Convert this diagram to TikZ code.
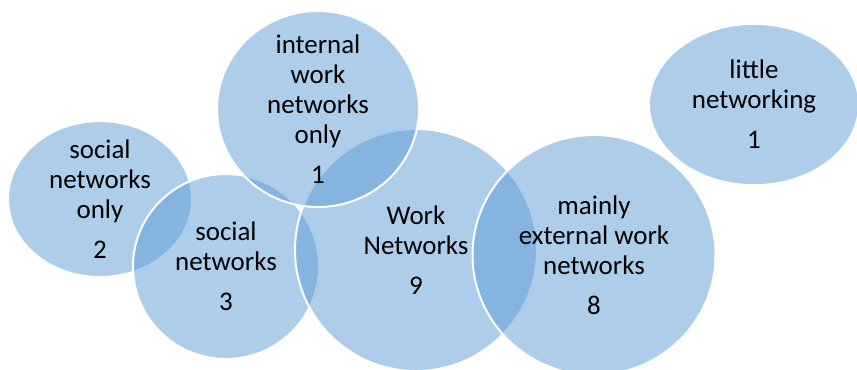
\documentclass[tikz,border=0pt]{standalone}
\usepackage{fontspec}
\setmainfont{Carlito}
\usetikzlibrary{shapes.geometric}
\definecolor{vennblue}{HTML}{5B9BD5}
\tikzset{
  venn/.style={ellipse, fill=vennblue, fill opacity=0.5, draw=white, draw opacity=1,
    line width=1.5pt, inner sep=0pt, outer sep=0pt},
  venntext/.style={align=center, text=black, inner sep=0pt,
    font=\fontsize{20.2}{22.5}\selectfont}
}
\begin{document}
\begin{tikzpicture}[x=0.75pt,y=-0.75pt]
\useasboundingbox (0,0) rectangle (857,369);
\clip (0,0) rectangle (857,369);
\node[venn, minimum width=138pt, minimum height=117pt] (sno) at (100,199) {};
\node[venn, minimum width=139.5pt, minimum height=138.75pt] (sn3) at (226,266.5) {};
\node[venn, minimum width=181.5pt, minimum height=181.5pt] (wn) at (416,250) {};
\node[venn, minimum width=151.5pt, minimum height=147pt] (iw) at (318,109) {};
\node[venn, minimum width=182.25pt, minimum height=180pt] (me) at (594,255) {};
\node[venn, minimum width=157.5pt, minimum height=121pt] (ln) at (754,104.5) {};
\node[venntext] (snot) at (sno.center) {social\\networks\\only\\[7.5pt]2};
\node[venntext] (sn3t) at (sn3.center) {social\\networks\\[7.5pt]3};
\node[venntext] (wnt) at (wn.center) {Work\\Networks\\[7.5pt]9};
\node[venntext] (iwt) at (iw.center) {internal\\work\\networks\\only\\[7.5pt]1};
\node[venntext] (met) at (me.center) {mainly\\external work\\networks\\[7.5pt]8};
\node[venntext] (lnt) at (ln.center) {little\\networking\\[7.5pt]1};
\end{tikzpicture}
\end{document}
